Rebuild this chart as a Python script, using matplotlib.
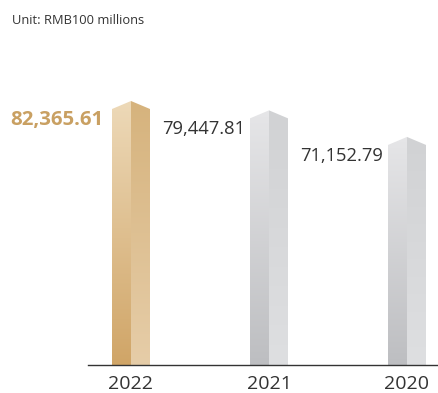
import numpy as np
import matplotlib
matplotlib.use("Agg")
import matplotlib.pyplot as plt
from matplotlib.patches import Polygon
from matplotlib.colors import LinearSegmentedColormap

plt.rcParams['font.family'] = ['Open Sans', 'DejaVu Sans']

years = ["2022", "2021", "2020"]
values = [82365.61, 79447.81, 71152.79]
labels = ["82,365.61", "79,447.81", "71,152.79"]
unit_text = "Unit: RMB100 millions"

gold = dict(lt="#edd9b8", lb="#d0a567", rt="#d6b37d", rb="#e6cda8")
grey = dict(lt="#e6e6e8", lb="#bdbec1", rt="#d1d2d4", rb="#dedfe1")
styles = [gold, grey, grey]

W, H = 439, 393
fig = plt.figure(figsize=(W / 100, H / 100), dpi=100)
ax = fig.add_axes([88 / W, 28 / H, (W - 88) / W, (H - 28) / H])

px_per_x = 138.0
x_left = (88 - 131) / px_per_x
ax.set_xlim(x_left, x_left + (W - 88) / px_per_x)
px_per_val = 264.0 / values[0]
ax.set_ylim(0, (H - 28) / px_per_val)

half = 19 / px_per_x
roof = 8 / px_per_val

grad = np.linspace(0, 1, 256).reshape(-1, 1)

def face(x0, x1, poly_pts, ctop, cbot, top):
    cmap = LinearSegmentedColormap.from_list("g", [cbot, ctop])
    im = ax.imshow(grad, extent=[x0, x1, 0, top], origin="lower", cmap=cmap,
                   aspect="auto", interpolation="bilinear", zorder=2)
    poly = Polygon(poly_pts, closed=True, facecolor="none", edgecolor="none",
                   transform=ax.transData)
    ax.add_patch(poly)
    im.set_clip_path(poly)

for i, (v, st) in enumerate(zip(values, styles)):
    x = i
    face(x - half, x, [(x - half, 0), (x - half, v - roof), (x, v), (x, 0)],
         st["lt"], st["lb"], v)
    face(x, x + half, [(x, 0), (x, v), (x + half, v - roof), (x + half, 0)],
         st["rt"], st["rb"], v)

for i, (v, lab) in enumerate(zip(values, labels)):
    if i == 0:
        ax.annotate(lab, xy=(i, v), xytext=(-28 * 0.72, -19 * 0.72),
                    textcoords="offset points", ha="right", va="center",
                    fontsize=14.7, fontweight="bold", color="#c9a062")
    else:
        ax.annotate(lab, xy=(i, v), xytext=(-24 * 0.72, -19 * 0.72),
                    textcoords="offset points", ha="right", va="center",
                    fontsize=13.2, color="#333333")

ax.set_xticks(range(len(years)))
ax.set_xticklabels(years, fontsize=14, color="#333333")
ax.tick_params(axis="x", length=0, pad=7)
ax.set_yticks([])
for s in ["top", "right", "left"]:
    ax.spines[s].set_visible(False)
ax.spines["bottom"].set_color("#333333")
ax.spines["bottom"].set_linewidth(1.0)
ax.spines["bottom"].set_zorder(3)

fig.text(12 / W, 1 - 20 / H, unit_text, fontsize=9.3, color="#333333",
         ha="left", va="center")

fig.savefig("out.png", dpi=100)
